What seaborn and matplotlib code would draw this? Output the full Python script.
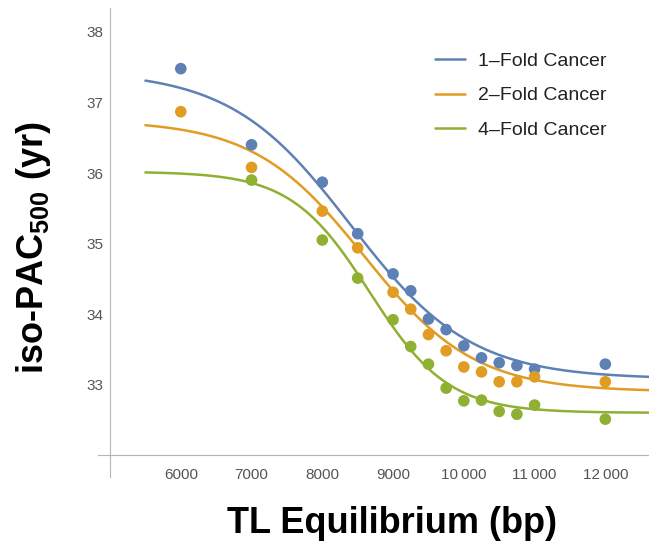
import numpy as np
import pandas as pd
import matplotlib
matplotlib.use("Agg")
import matplotlib.pyplot as plt
import seaborn as sns
from matplotlib.lines import Line2D
from matplotlib.ticker import MultipleLocator, FixedLocator

# ---------------- data ----------------
tl_bp = [6000, 7000, 8000, 8500, 9000, 9250, 9500, 9750, 10000, 10250, 10500, 10750, 11000, 12000]
fold1 = [37.48, 36.40, 35.87, 35.14, 34.57, 34.33, 33.93, 33.78, 33.55, 33.38, 33.31, 33.27, 33.22, 33.29]
fold2 = [36.87, 36.08, 35.46, 34.94, 34.31, 34.07, 33.71, 33.48, 33.25, 33.18, 33.04, 33.04, 33.11, 33.04]
fold4 = [np.nan, 35.90, 35.05, 34.51, 33.92, 33.54, 33.29, 32.95, 32.77, 32.78, 32.62, 32.58, 32.71, 32.51]
series_labels = ["1\u2013Fold Cancer", "2\u2013Fold Cancer", "4\u2013Fold Cancer"]
series_colors = ["#5E81B5", "#E19C24", "#8FB032"]

# fitted sigmoid parameters per series: top, bottom, midpoint, width
fit_top = [37.45, 36.75, 36.02]
fit_bottom = [33.08, 32.90, 32.60]
fit_mid = [8400, 8590, 8670]
fit_width = [850, 780, 555]
fit_range = [5500, 12700]

x_ticks = [6000, 7000, 8000, 9000, 10000, 11000, 12000]
x_tick_labels = ["6000", "7000", "8000", "9000", "10\u2009000", "11\u2009000", "12\u2009000"]
y_ticks = [33, 34, 35, 36, 37, 38]
y_tick_labels = ["33", "34", "35", "36", "37", "38"]

# ---------------- style ----------------
sns.set_style("white")
plt.rcParams["font.family"] = ["Liberation Sans", "DejaVu Sans"]
plt.rcParams["mathtext.fontset"] = "custom"
plt.rcParams["mathtext.rm"] = "Liberation Sans"
plt.rcParams["mathtext.bf"] = "Liberation Sans:bold"
plt.rcParams["mathtext.default"] = "bf"

W, H = 649, 541
fig = plt.figure(figsize=(W / 100, H / 100), dpi=100)
ax = fig.add_axes([98 / W, 1 - 477 / H, 1 - 98 / W, (477 - 8) / H])

# points table
pts = pd.DataFrame({
    "x": tl_bp * 3,
    "y": fold1 + fold2 + fold4,
    "series": [series_labels[0]] * len(tl_bp) + [series_labels[1]] * len(tl_bp) + [series_labels[2]] * len(tl_bp),
}).dropna()

# fitted curves table
xc = np.linspace(fit_range[0], fit_range[1], 400)
curves = []
for lab, T, B, m, w in zip(series_labels, fit_top, fit_bottom, fit_mid, fit_width):
    yc = B + (T - B) / (1 + np.exp((xc - m) / w))
    curves.append(pd.DataFrame({"x": xc, "y": yc, "series": lab}))
curves = pd.concat(curves, ignore_index=True)

pal = dict(zip(series_labels, series_colors))
sns.lineplot(data=curves, x="x", y="y", hue="series", palette=pal, hue_order=series_labels,
             legend=False, lw=1.8, ax=ax, zorder=2)
sns.scatterplot(data=pts, x="x", y="y", hue="series", palette=pal, hue_order=series_labels,
                s=70, edgecolor="none", linewidth=0, legend=False, ax=ax, zorder=3)

ax.set_xlim(4830, 12617)
ax.set_ylim(31.69, 38.34)

for s in ["top", "right"]:
    ax.spines[s].set_visible(False)
ax.spines["left"].set_position(("data", 5000))
ax.spines["bottom"].set_position(("data", 32))
for s in ["left", "bottom"]:
    ax.spines[s].set_color("#b5b5b5")
    ax.spines[s].set_linewidth(0.8)

ax.xaxis.set_major_locator(FixedLocator(x_ticks))
ax.set_xticklabels(x_tick_labels)
ax.yaxis.set_major_locator(FixedLocator(y_ticks))
ax.set_yticklabels(y_tick_labels)
ax.yaxis.set_minor_locator(MultipleLocator(0.2))
ax.tick_params(axis="both", which="major", direction="in", length=4, width=0.8,
               color="#a8a8a8", labelcolor="#555555", labelsize=11)
ax.tick_params(axis="y", which="minor", direction="in", length=2.5, width=0.6, color="#b8b8b8")
ax.tick_params(axis="x", which="major", pad=9)
ax.tick_params(axis="y", which="major", pad=5)
ax.set_xlabel("")
ax.set_ylabel("")

fig.text(392 / W, 1 - 533 / H, "TL Equilibrium (bp)", fontsize=26, fontweight="bold",
         ha="center", va="baseline", color="black")
fig.text(34 / W, 1 - 248 / H, r"iso-PAC$_{500}$ (yr)", fontsize=26, fontweight="bold",
         rotation=90, ha="center", va="center", color="black")

handles = [Line2D([0], [0], color=c, lw=1.8) for c in series_colors]
leg = fig.legend(handles, series_labels, loc="upper left", bbox_to_anchor=(435 / W, 1 - 52 / H),
                 frameon=False, fontsize=14, handlelength=1.55, handletextpad=0.65,
                 labelspacing=0.88, borderpad=0, borderaxespad=0)
for t in leg.get_texts():
    t.set_color("#222222")

fig.savefig("out.png", dpi=100)
